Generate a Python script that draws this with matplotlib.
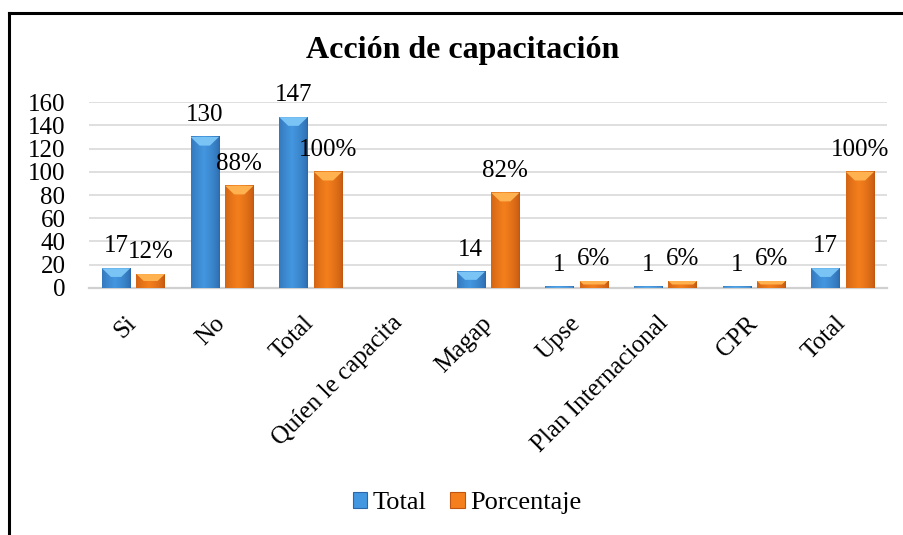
import numpy as np
import matplotlib
matplotlib.use('Agg')
import matplotlib.pyplot as plt
from matplotlib.patches import Polygon, Patch
from matplotlib.lines import Line2D
from matplotlib.colors import to_rgb

plt.rcParams['font.family'] = ['Liberation Serif', 'DejaVu Serif']

# datos
categorias = ['Si', 'No', 'Total', 'Quíen le capacita', 'Magap', 'Upse',
              'Plan Internacional', 'CPR', 'Total']
total = [17, 130, 147, np.nan, 14, 1, 1, 1, 17]
porcentaje = [12, 88, 100, np.nan, 82, 6, 6, 6, 100]

FS = 18
azul = ('#2B67A8', '#4396E0', '#79C4F5')
naranja = ('#BF5510', '#F47F1C', '#FFB24F')

fig = plt.figure(figsize=(9.04, 5.35), dpi=100)
ax = fig.add_axes([0.0985, 0.4617, 0.8827, 0.3476])

x = np.arange(len(categorias))
w = 0.32
off = 0.195


def degradado(c_borde, c_centro, n=64):
    t = np.linspace(0, 1, n)
    peso = np.clip(1 - np.abs(t - 0.45) / 0.55, 0, 1) ** 0.6
    a = np.array(to_rgb(c_borde))
    b = np.array(to_rgb(c_centro))
    fila = a[None, :] * (1 - peso[:, None]) + b[None, :] * peso[:, None]
    return fila[None, :, :]


def pintar(barras, colores):
    grad = degradado(colores[0], colores[1])
    for r in barras:
        h = r.get_height()
        if np.isnan(h):
            continue
        x0 = r.get_x()
        bw = r.get_width()
        ax.imshow(grad, extent=[x0, x0 + bw, 0, h], aspect='auto',
                  zorder=3, interpolation='bilinear')
        prof = min(7.5, h * 0.5)
        ent = bw * 0.32 * prof / 7.5
        pts = [(x0, h), (x0 + bw, h), (x0 + bw - ent, h - prof), (x0 + ent, h - prof)]
        ax.add_patch(Polygon(pts, closed=True, facecolor=colores[2], lw=0, zorder=4))


b1 = ax.bar(x - off, total, w, color=azul[1], zorder=2)
b2 = ax.bar(x + off, porcentaje, w, color=naranja[1], zorder=2)
pintar(b1, azul)
pintar(b2, naranja)

# etiquetas de datos
for r, v in zip(b1, total):
    if np.isnan(v):
        continue
    ax.annotate('%d' % v, (r.get_x() + r.get_width() / 2, v), xytext=(0, 8),
                textcoords='offset points', ha='center', va='bottom', fontsize=FS)
for r, v in zip(b2, porcentaje):
    if np.isnan(v):
        continue
    ax.annotate('%d%%' % v, (r.get_x() + r.get_width() / 2, v), xytext=(0, 8),
                textcoords='offset points', ha='center', va='bottom', fontsize=FS)

ax.set_xlim(-0.5, len(categorias) - 0.5)
ax.set_ylim(0, 160)
ax.set_yticks(np.arange(0, 161, 20))
ax.set_xticks(x)
ax.set_xticklabels(categorias, rotation=45, ha='right', va='center',
                   rotation_mode='anchor', fontsize=FS)
ax.tick_params(axis='y', length=0, pad=17, labelsize=FS)
ax.tick_params(axis='x', length=0, pad=23)
ax.yaxis.grid(True, color='#D9D9D9', lw=1.2, zorder=0)
ax.set_axisbelow(True)
for s in ['top', 'right', 'left']:
    ax.spines[s].set_visible(False)
ax.spines['bottom'].set_color('#D0D0D0')
ax.spines['bottom'].set_linewidth(1.6)

fig.text(0.5116, 0.9065, 'Acción de capacitación', ha='center', va='center',
         fontsize=23, fontweight='bold')

manejadores = [Patch(facecolor=azul[1], edgecolor=azul[0], lw=0.8),
               Patch(facecolor=naranja[1], edgecolor=naranja[0], lw=0.8)]
fig.legend(manejadores, ['Total', 'Porcentaje'], loc='center',
           bbox_to_anchor=(467 / 904, 1 - 503 / 535), ncol=2, frameon=False,
           fontsize=19, handlelength=0.55, handleheight=0.55,
           handletextpad=0.2, columnspacing=0.9)

# marco
fig.add_artist(Line2D([9 / 904, 9 / 904], [0, 1 - 12.5 / 535], color='black',
                      lw=2.2, transform=fig.transFigure))
fig.add_artist(Line2D([9 / 904, 1], [1 - 12.5 / 535, 1 - 12.5 / 535], color='black',
                      lw=2.2, transform=fig.transFigure))

fig.savefig('out.png', dpi=100)
